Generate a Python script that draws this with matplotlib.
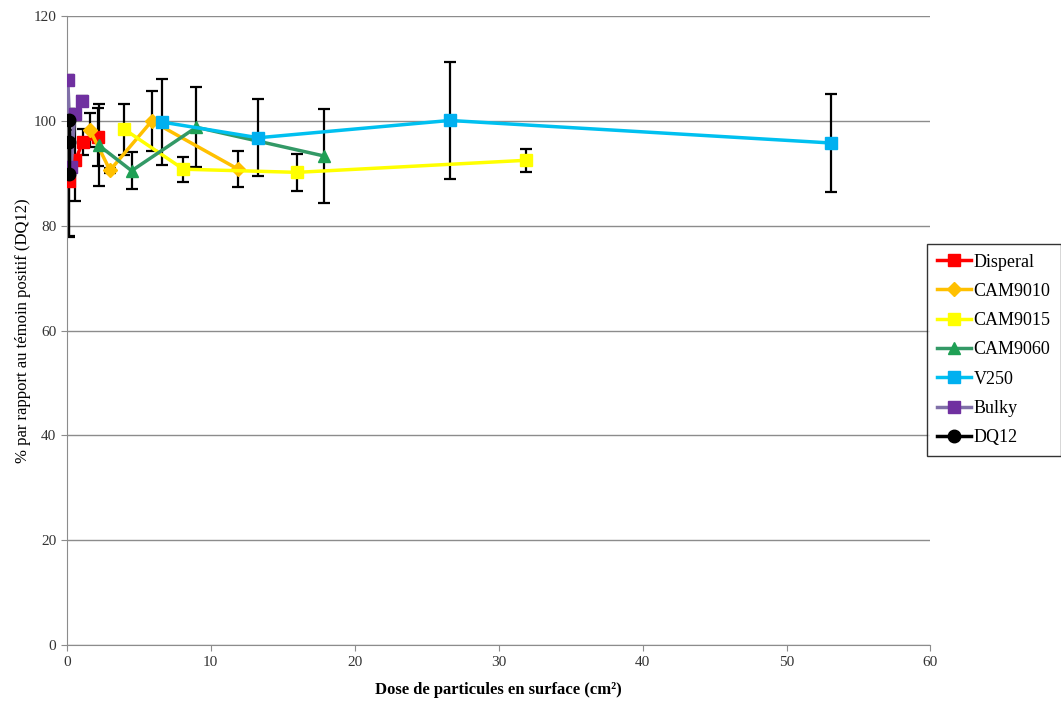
import matplotlib.pyplot as plt

# values
disperal_x = [0.15, 0.6, 1.1, 2.15]
disperal_y = [88.5, 92.5, 96.0, 97.0]
disperal_err = [10.5, 7.7, 2.5, 5.5]

cam9010_x = [1.6, 3.0, 5.9, 11.9]
cam9010_y = [98.3, 90.6, 100.0, 90.8]
cam9010_err = [3.2, 0.5, 5.8, 3.4]

cam9015_x = [4.0, 8.1, 16.0, 31.9]
cam9015_y = [98.4, 90.8, 90.2, 92.5]
cam9015_err = [4.8, 2.4, 3.5, 2.2]

cam9060_x = [2.2, 4.5, 9.0, 17.9]
cam9060_y = [95.4, 90.5, 98.8, 93.3]
cam9060_err = [7.8, 3.5, 7.6, 9.0]

v250_x = [6.6, 13.3, 26.6, 53.1]
v250_y = [99.8, 96.8, 100.1, 95.8]
v250_err = [8.2, 7.3, 11.2, 9.3]

bulky_x = [0.07, 0.3, 0.55, 1.05]
bulky_y = [107.8, 91.2, 101.3, 103.8]
bulky_err = [1.0, 1.0, 1.0, 1.0]

dq12_x = [0.12, 0.12, 0.12]
dq12_y = [100.2, 96.0, 89.8]
dq12_err = [2.0, 3.0, 12.0]

series = [
    ("Disperal", disperal_x, disperal_y, disperal_err, "#FF0000", "#FF0000", "s", 8),
    ("CAM9010", cam9010_x, cam9010_y, cam9010_err, "#FFC000", "#FFC000", "D", 7),
    ("CAM9015", cam9015_x, cam9015_y, cam9015_err, "#FFFF00", "#FFFF00", "s", 9),
    ("CAM9060", cam9060_x, cam9060_y, cam9060_err, "#339966", "#1FA055", "^", 9),
    ("V250", v250_x, v250_y, v250_err, "#00C0F0", "#00B0F0", "s", 9),
    ("Bulky", bulky_x, bulky_y, bulky_err, "#8070A8", "#7030A0", "s", 8),
    ("DQ12", dq12_x, dq12_y, dq12_err, "#000000", "#000000", "o", 9),
]

plt.rcParams['font.family'] = ['Liberation Serif', 'DejaVu Serif']

fig = plt.figure(figsize=(10.61, 7.02), dpi=100)
ax = fig.add_axes([0.063, 0.081, 0.814, 0.896])

for name, x, y, err, lc, mc, mk, ms in series:
    ax.errorbar(x, y, yerr=err, fmt='none', ecolor='black', elinewidth=1.6,
                capsize=4, capthick=1.6, zorder=2)
    ax.plot(x, y, color=lc, linewidth=2.5, marker=mk, markersize=ms,
            markerfacecolor=mc, markeredgecolor=mc, label=name, zorder=3)

ax.set_xlim(0, 60)
ax.set_ylim(0, 120)
ax.set_xticks(range(0, 61, 10))
ax.set_yticks(range(0, 121, 20))
ax.yaxis.grid(True, color='#8c8c8c', linewidth=1)
ax.set_axisbelow(True)
for side in ['top', 'right']:
    ax.spines[side].set_visible(False)
for side in ['left', 'bottom']:
    ax.spines[side].set_color('#8c8c8c')
ax.tick_params(colors='#8c8c8c', labelcolor='#333333', labelsize=11, length=4)

ax.set_xlabel("Dose de particules en surface (cm²)", fontsize=12, fontweight='bold',
              labelpad=10)
ax.set_ylabel("% par rapport au témoin positif (DQ12)", fontsize=12, labelpad=2)

leg = fig.legend(loc='upper left', bbox_to_anchor=(0.8735, 0.653), fontsize=13,
                 frameon=True, fancybox=False, edgecolor='black', handlelength=1.9,
                 labelspacing=0.68, borderpad=0.55, borderaxespad=0, handletextpad=0.15)
leg.get_frame().set_linewidth(1.0)

fig.savefig("out.png", dpi=100)
